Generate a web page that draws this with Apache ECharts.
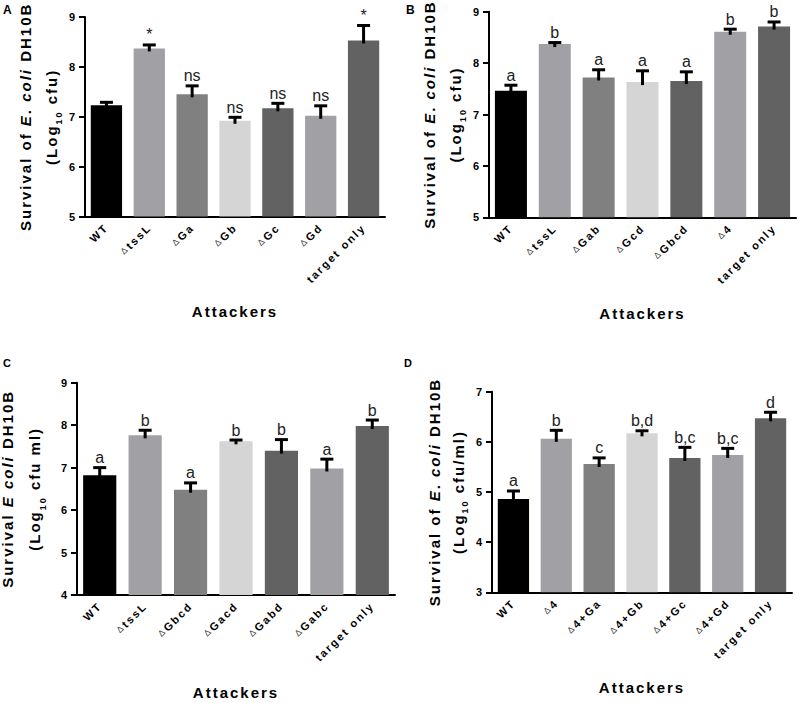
<!DOCTYPE html>
<html><head><meta charset="utf-8">
<script src="https://cdn.jsdelivr.net/npm/echarts@6/dist/echarts.min.js"></script>
<style>
html,body{margin:0;padding:0;background:#fff}
#c{width:800px;height:703px}
#c text[style*="bold"]{letter-spacing:2px}
</style></head><body><div id="c"></div>
<script>
// Panel A
const catsA = ['WT','ΔtssL','ΔGa','ΔGb','ΔGc','ΔGd','target only'];
const meanA = [7.23, 8.37, 7.45, 6.92, 7.17, 7.02, 8.53];
const errA  = [7.29, 8.44, 7.62, 6.99, 7.27, 7.22, 8.83];
const sigA  = ['', '*', 'ns', 'ns', 'ns', 'ns', '*'];
// Panel B
const catsB = ['WT','ΔtssL','ΔGab','ΔGcd','ΔGbcd','Δ4','target only'];
const meanB = [7.46, 8.37, 7.72, 7.63, 7.65, 8.61, 8.71];
const errB  = [7.57, 8.40, 7.87, 7.85, 7.83, 8.66, 8.80];
const sigB  = ['a','b','a','a','a','b','b'];
// Panel C
const catsC = ['WT','ΔtssL','ΔGbcd','ΔGacd','ΔGabd','ΔGabc','target only'];
const meanC = [6.82, 7.76, 6.48, 7.62, 7.40, 6.98, 7.98];
const errC  = [7.00, 7.88, 6.64, 7.65, 7.66, 7.20, 8.12];
const sigC  = ['a','b','a','b','b','a','b'];
// Panel D
const catsD = ['WT','Δ4','Δ4+Ga','Δ4+Gb','Δ4+Gc','Δ4+Gd','target only'];
const meanD = [4.86, 6.06, 5.56, 6.17, 5.68, 5.74, 6.47];
const errD  = [5.02, 6.23, 5.68, 6.22, 5.89, 5.87, 6.59];
const sigD  = ['a','b','c','b,d','b,c','b,c','d'];
// Axis ranges / titles
const yMin = [5, 5, 4, 3];
const yMax = [9, 9, 9, 7];
const yTitle1 = ['Survival of |E|. |coli| DH10B','Survival of |E|. |coli| DH10B','Survival |E| |coli| DH10B','Survival of |E|. |coli| DH10B'];
const yTitle2 = [' cfu)',' cfu)',' cfu ml)',' cfu/ml)'];
const xTitle = 'Attackers';
const panelLetters = ['A','B','C','D'];

const colors = ['#000000','#a1a1a5','#808080','#d5d5d5','#626262','#a1a1a5','#626262'];
const FF = 'Liberation Sans, Arial, sans-serif';
const SPACING = 2;

// text measurement that matches the CSS letter-spacing used for bold text
const mctx = document.createElement('canvas').getContext('2d');
echarts.setPlatformAPI({
  measureText: function(text, font){
    mctx.font = font || '12px sans-serif';
    const t = String(text == null ? '' : text);
    const w = mctx.measureText(t).width;
    const sp = /bold/.test(font || '') ? SPACING * t.length : 0;
    return {width: w + sp};
  }
});

const panels = [
  {cats:catsA, mean:meanA, err:errA, sig:sigA},
  {cats:catsB, mean:meanB, err:errB, sig:sigB},
  {cats:catsC, mean:meanC, err:errC, sig:sigC},
  {cats:catsD, mean:meanD, err:errD, sig:sigD}
];
const grids = [
  {left:85, top:17, width:300, height:199.6, outerBoundsMode:'none', containLabel:false},
  {left:489, top:11.7, width:307, height:205.6, outerBoundsMode:'none', containLabel:false},
  {left:77, top:382.7, width:318, height:212.3, outerBoundsMode:'none', containLabel:false},
  {left:492, top:391.7, width:300, height:200.6, outerBoundsMode:'none', containLabel:false}
];
const yGap = [19, 21, 29, 22];
const xGap = [86, 88, 89, 87];
const lh = [26, 26, 27, 24];

function nb(s){ return s.replace(/ /g, '\u00a0'); }
function yName(i){
  const parts = yTitle1[i].split('|');
  let s = '';
  parts.forEach((p,k)=>{ if(p.length) s += (k%2 ? '{i|'+nb(p)+'}' : '{n|'+nb(p)+'}'); });
  return s + '\n{n|(Log}{s|10}{n|' + nb(yTitle2[i]) + '}';
}
function catLabel(v){
  if (v.charAt(0)==='Δ') return '{d|Δ}{b|'+nb(v.slice(1))+'}';
  return '{b|'+nb(v)+'}';
}

const xAxes=[], yAxes=[], series=[];
panels.forEach((p,i)=>{
  xAxes.push({
    type:'category', gridIndex:i, data:p.cats,
    axisLine:{lineStyle:{color:'#000', width:2}},
    axisTick:{length:5, lineStyle:{color:'#000', width:2}, alignWithLabel:true},
    axisLabel:{interval:0, rotate:45, margin:9, formatter:catLabel,
      rich:{
        b:{fontFamily:FF, fontWeight:'bold', fontSize:11, color:'#000'},
        d:{fontFamily:FF, fontWeight:'normal', fontSize:9, color:'#444', padding:[0,2,0,0]}
      }},
    name:xTitle, nameLocation:'middle', nameGap:xGap[i],
    nameTextStyle:{fontFamily:FF, fontWeight:'bold', fontSize:15, color:'#000'}
  });
  yAxes.push({
    type:'value', gridIndex:i, min:yMin[i], max:yMax[i], interval:1,
    splitLine:{show:false},
    axisLine:{show:true, lineStyle:{color:'#000', width:2}},
    axisTick:{show:true, length:6, lineStyle:{color:'#000', width:2}},
    axisLabel:{fontFamily:FF, fontWeight:'bold', fontSize:11, color:'#000', margin:8},
    name:yName(i), nameLocation:'middle', nameGap:yGap[i],
    nameTextStyle:{
      rich:{
        n:{fontFamily:FF, fontWeight:'bold', fontSize:15, color:'#000', lineHeight:lh[i]},
        i:{fontFamily:FF, fontWeight:'bold', fontStyle:'italic', fontSize:15, color:'#000', lineHeight:lh[i]},
        s:{fontFamily:FF, fontWeight:'bold', fontSize:9, color:'#000', verticalAlign:'bottom', lineHeight:lh[i]}
      }
    }
  });
  series.push({
    type:'bar', xAxisIndex:i, yAxisIndex:i, barCategoryGap:'27%', silent:true,
    data:p.mean.map((v,j)=>({value:v, itemStyle:{color:colors[j]}}))
  });
  series.push({
    type:'custom', xAxisIndex:i, yAxisIndex:i, z:5, silent:true,
    encode:{x:0, y:[1,2]},
    data:p.mean.map((v,j)=>[j, v, p.err[j]]),
    renderItem:function(params, api){
      const base = api.coord([api.value(0), api.value(1)]);
      const top = api.coord([api.value(0), api.value(2)]);
      const cx = base[0];
      const lab = p.sig[params.dataIndex];
      const children = [
        {type:'line', shape:{x1:cx, y1:base[1]+3, x2:cx, y2:top[1]}, style:{stroke:'#000', lineWidth:3}},
        {type:'line', shape:{x1:cx-6.5, y1:top[1], x2:cx+6.5, y2:top[1]}, style:{stroke:'#000', lineWidth:3}}
      ];
      if (lab) children.push({type:'text', style:{text:lab, x:cx, y:top[1]-2, align:'center', verticalAlign:'bottom',
        font:'16px Liberation Sans, Arial, sans-serif', fill:'#222'}});
      return {type:'group', children:children};
    }
  });
});

const chart = echarts.init(document.getElementById('c'), null, {renderer:'svg'});
chart.setOption({
  animation:false,
  backgroundColor:'#fff',
  grid:grids,
  xAxis:xAxes, yAxis:yAxes, series:series,
  graphic:[
    {type:'text', left:3, top:3, style:{text:panelLetters[0], font:'bold 12px Liberation Sans, Arial, sans-serif', fill:'#000'}},
    {type:'text', left:406, top:3, style:{text:panelLetters[1], font:'bold 12px Liberation Sans, Arial, sans-serif', fill:'#000'}},
    {type:'text', left:3, top:356, style:{text:panelLetters[2], font:'bold 11px Liberation Sans, Arial, sans-serif', fill:'#000'}},
    {type:'text', left:404, top:356, style:{text:panelLetters[3], font:'bold 11px Liberation Sans, Arial, sans-serif', fill:'#000'}}
  ]
});
</script></body></html>
